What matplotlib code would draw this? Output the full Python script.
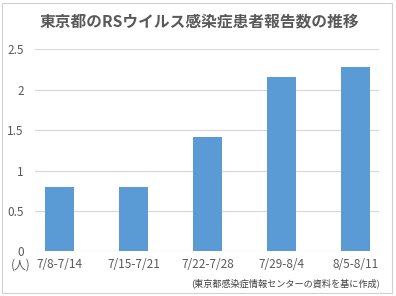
import matplotlib
matplotlib.use("Agg")
import matplotlib.pyplot as plt
from matplotlib.patches import Rectangle

plt.rcParams['font.family'] = ['Noto Sans CJK JP', 'DejaVu Sans']

weeks = ["7/8-7/14", "7/15-7/21", "7/22-7/28", "7/29-8/4", "8/5-8/11"]
cases = [0.80, 0.80, 1.41, 2.16, 2.28]
y_ticks = [0, 0.5, 1, 1.5, 2, 2.5]
y_labels = ["0", "0.5", "1", "1.5", "2", "2.5"]

W, H = 396, 296
fig = plt.figure(figsize=(W / 100, H / 100), dpi=100)
fig.add_artist(Rectangle((2 / W, 3 / H), 390 / W, 290 / H, transform=fig.transFigure,
                         fill=False, edgecolor="#d0d0d0", lw=0.8))

# plot area in pixels: x 35..379, y 49..251
ax = fig.add_axes([35 / W, (H - 251.3) / H, 344 / W, 202 / H])
x = list(range(len(weeks)))
ax.bar(x, cases, width=0.40, color="#5b9bd5", zorder=3)
ax.set_xlim(-0.334, 4.32)
ax.set_ylim(0, 2.5)
ax.set_yticks(y_ticks)
ax.set_yticklabels(y_labels)
ax.set_xticks(x)
ax.set_xticklabels(weeks)
ax.grid(axis="y", color="#d9d9d9", lw=0.9, zorder=0)
for s in ax.spines.values():
    s.set_visible(False)
ax.tick_params(length=0, labelsize=8.5, colors="#595959")
ax.tick_params(axis="y", pad=8)
ax.tick_params(axis="x", pad=5)

fig.text(199 / W, 1 - 21 / H, "東京都のRSウイルス感染症患者報告数の推移", ha="center", va="center",
         fontsize=11.3, fontweight="bold", color="#595959")
fig.text(21 / W, 1 - 265 / H, "(人)", ha="center", va="center", fontsize=8.5, color="#595959")
fig.text(380 / W, 1 - 283 / H, "(東京都感染症情報センターの資料を基に作成)", ha="right", va="center",
         fontsize=6.6, color="#404040")

fig.savefig("out.png", dpi=100)
